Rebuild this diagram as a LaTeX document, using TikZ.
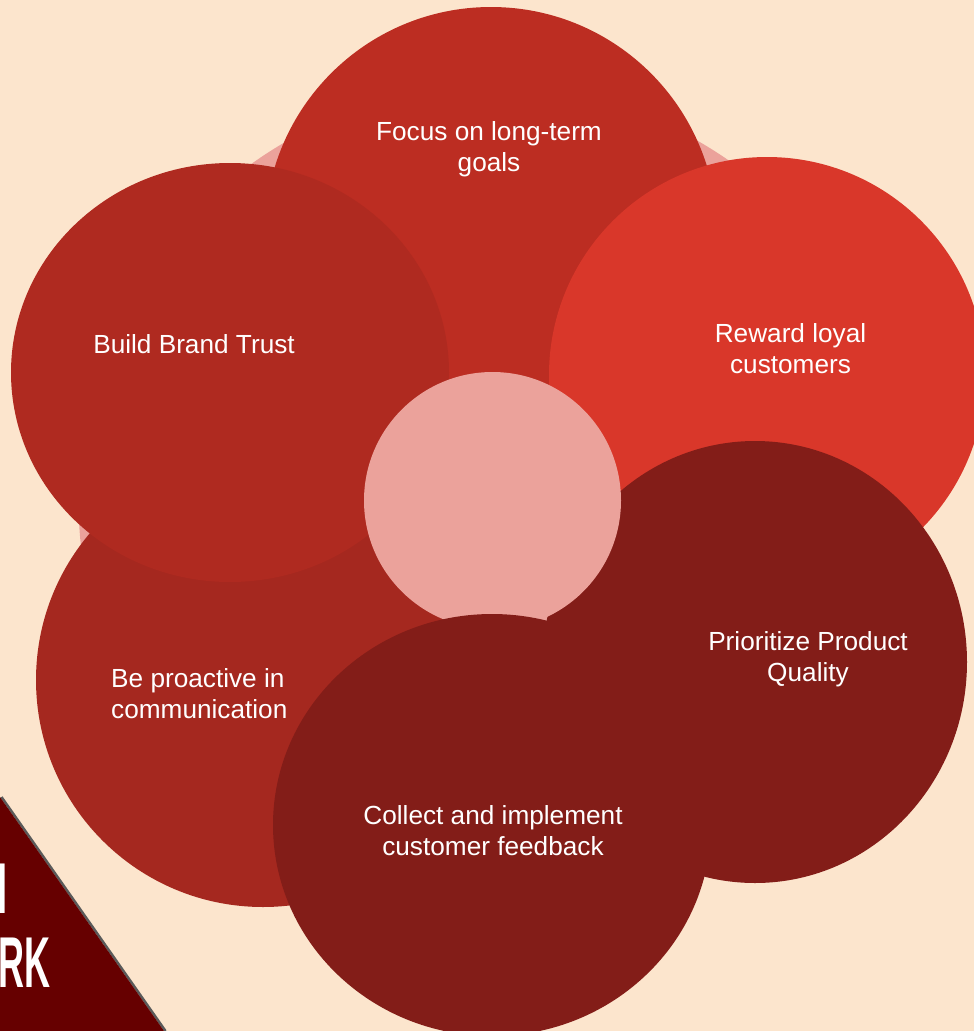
\documentclass[tikz,border=0pt]{standalone}
\usepackage{fontspec}
\setmainfont{Liberation Sans}
\newfontfamily\bannerfont{Liberation Sans}
\usetikzlibrary{shapes.geometric}

\definecolor{paper}{HTML}{FCE5CD}
\definecolor{blush}{HTML}{EBA29B}
\definecolor{focusred}{HTML}{BC2D22}
\definecolor{trustred}{HTML}{AF2A20}
\definecolor{rewardred}{HTML}{D9372A}
\definecolor{proactred}{HTML}{A5281F}
\definecolor{deepred}{HTML}{831D18}
\definecolor{banner}{HTML}{660000}
\definecolor{bannershade}{HTML}{5A5A5A}

\begin{document}
\begin{tikzpicture}[x=1pt, y=-1pt,
  blob/.style={ellipse, inner sep=0pt, outer sep=0pt, draw=none},
  caption/.style={text=white, font=\fontsize{26.2}{31}\selectfont, align=center, inner sep=0pt},
  bannertext/.style={text=white, inner sep=0pt, font=\bannerfont\bfseries\fontsize{72}{72}\selectfont}]

  % page
  \fill[paper] (0,0) rectangle (974,1031);
  \useasboundingbox (0,0) rectangle (974,1031);

  % soft halo behind the petals
  \node[blob, fill=blush, minimum width=828pt, minimum height=828pt] (halo) at (492.5,500.5) {};

  % petals, back to front
  \node[blob, fill=focusred,  minimum width=452pt, minimum height=452pt] (focus)      at (491,233) {};
  \node[blob, fill=proactred, minimum width=454pt, minimum height=454pt] (proactive)  at (263,680) {};
  \node[blob, fill=rewardred, minimum width=436pt, minimum height=436pt] (reward)     at (767,375) {};
  \node[blob, fill=trustred,  minimum width=438pt, minimum height=419pt] (trust)      at (230,372.5) {};
  \node[blob, fill=deepred,   minimum width=424pt, minimum height=442pt] (quality)    at (755,662) {};
  \node[blob, fill=blush,     minimum width=257pt, minimum height=257pt] (hub)        at (492.5,500.5) {};
  \node[blob, fill=deepred,   minimum width=438pt, minimum height=422pt] (feedback)   at (492,825) {};

  % petal captions
  \node[caption] (focuslbl)    at (489,149) {Focus on long-term\\goals};
  \node[caption] (trustlbl)    at (194,344) {Build Brand Trust};
  \node[caption] (rewardlbl)   at (790.5,349) {Reward loyal\\customers};
  \node[caption, align=left, anchor=west] (proactlbl) at (111,694) {Be proactive in\\communication};
  \node[caption] (qualitylbl)  at (808,659) {Prioritize Product\\Quality};
  \node[caption] (feedbacklbl) at (493,831) {Collect and implement\\customer feedback};

  % corner banner
  \coordinate (bannertop) at (0,797);
  \coordinate (bannerfoot) at (164,1031);
  \draw[bannershade, line width=2.5pt] ([xshift=1.5pt]bannertop) -- ([xshift=1.5pt]bannerfoot);
  \fill[banner] (bannertop) -- (bannerfoot) -- (0,1031) -- cycle;
  \node[bannertext, anchor=base west] (bannerA) at (-2.5,913) {\scalebox{0.5}[1]{I}};
  \node[bannertext, anchor=base east] (bannerB) at (51,987) {\scalebox{0.5}[1]{RK}};
\end{tikzpicture}
\end{document}
